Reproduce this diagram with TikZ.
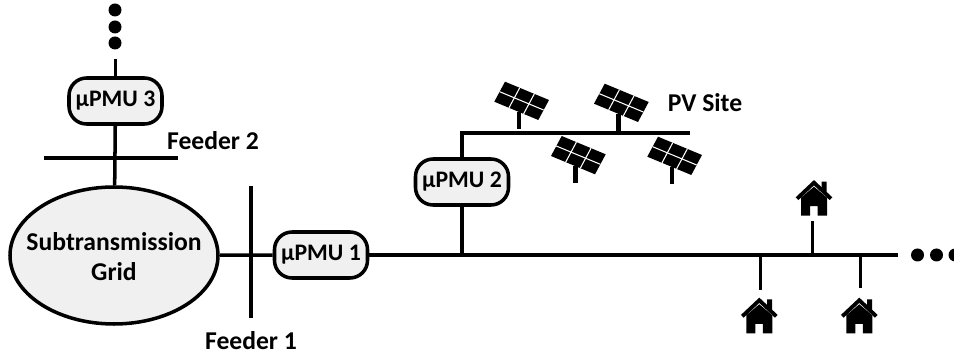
\documentclass[tikz,border=0pt]{standalone}
\usepackage{fontspec}
\setmainfont{Carlito}
\usetikzlibrary{shapes.geometric}
\definecolor{boxgray}{HTML}{F0F0F0}
\tikzset{
    pvpanel/.pic={
        \draw[line width=2.8pt] (0,0)--(0,-17);
        \fill (-14,-47.3)--(30,-29)--(19.3,-9)--(-24.7,-27.3)--cycle;
        \draw[white,line width=0.6pt] (0.7,-41.2)--(-10,-21.2);
        \draw[white,line width=0.6pt] (15.3,-35.1)--(4.6,-15.1);
        \draw[white,line width=0.6pt] (-19.4,-37.3)--(24.6,-19);
    },
    househut/.pic={
        \draw[line width=2.2pt] (-17,17)--(0,1)--(17,17);
        \fill (7.7,0)--(12.7,0)--(12.7,12)--(7.7,7.5)--cycle;
        \fill (-13,34)--(-13,16)--(0,5)--(13,16)--(13,34)--(3.5,34)--(3.5,24.5)--(-4,24.5)--(-4,34)--cycle;
    }
}
\begin{document}
\begin{tikzpicture}[
        x=0.02cm,
        y=-0.02cm,
        line width=2pt,
        pmu/.style={
            rectangle,
            rounded corners=10pt,
            draw,
            fill=boxgray,
            inner sep=0pt,
            minimum width=93*0.02cm,
            minimum height=46*0.02cm,
            font=\bfseries\fontsize{13.5}{15}\selectfont
        },
        grid/.style={
            ellipse,
            draw,
            fill=boxgray,
            inner sep=0pt,
            minimum width=208*0.02cm,
            minimum height=137*0.02cm
        },
        lbl/.style={
            inner sep=0pt,
            align=center,
            font=\bfseries\fontsize{14.6}{17}\selectfont
        },
        dotnode/.style={
            circle,
            fill=black,
            inner sep=0pt,
            minimum size=13*0.02cm
        }
    ]
    \useasboundingbox (0,0) rectangle (954,354);
    \clip (0,0) rectangle (954,354);

    \node[grid] (grid) at (114,255.5) {};
    \node[lbl] (gridname) at (114,257) {Subtransmission\\Grid};
    \node[pmu] (pmu3) at (115.5,101) {µPMU 3};
    \node[pmu] (pmu1) at (321,255) {µPMU 1};
    \node[pmu] (pmu2) at (462,182) {µPMU 2};

    \node[dotnode] (up1) at (115,10) {};
    \node[dotnode] (up2) at (115,27) {};
    \node[dotnode] (up3) at (115,43) {};
    \node[dotnode] (right1) at (917.5,255) {};
    \node[dotnode] (right2) at (936.5,255) {};
    \node[dotnode] (right3) at (955,255) {};

    \node[lbl] (feeder2) at (213,141) {Feeder 2};
    \node[lbl] (feeder1) at (251,341) {Feeder 1};
    \node[lbl] (pvsite) at (705,103) {PV Site};

    \coordinate (upend) at (115.5,59);
    \coordinate (f2left) at (44,158);
    \coordinate (f2right) at (178,158);
    \coordinate (f1top) at (251,186);
    \coordinate (f1bot) at (251,318);
    \coordinate (busend) at (898,255);
    \coordinate (pmu2tap) at (462,255);
    \coordinate (pvcorner) at (462,133);
    \coordinate (pvend) at (690,133);
    \coordinate (tap1) at (760.7,255);
    \coordinate (tap2) at (812.3,255);
    \coordinate (tap3) at (860.3,255);
    \coordinate (stem1) at (760.7,290);
    \coordinate (stem2) at (812.3,221);
    \coordinate (stem3) at (860.3,288);

    \draw (upend)--(pmu3);
    \draw (pmu3)--(grid);
    \draw (f2left)--(f2right);
    \draw (f1top)--(f1bot);
    \draw (grid)--(pmu1);
    \draw (pmu1)--(busend);
    \draw (pmu2tap)--(pmu2);
    \draw (pmu2)--(pvcorner)--(pvend);
    \draw (tap1)--(stem1);
    \draw (tap2)--(stem2);
    \draw (tap3)--(stem3);

    \pic (pv1) at (519,129) {pvpanel};
    \pic (pv2) at (618.7,131) {pvpanel};
    \pic (pv3) at (575.7,183.3) {pvpanel};
    \pic (pv4) at (672,184) {pvpanel};

    \pic (house1) at (759.3,299.3) {househut};
    \pic (house2) at (814,181.7) {househut};
    \pic (house3) at (859.3,299.3) {househut};
\end{tikzpicture}
\end{document}
